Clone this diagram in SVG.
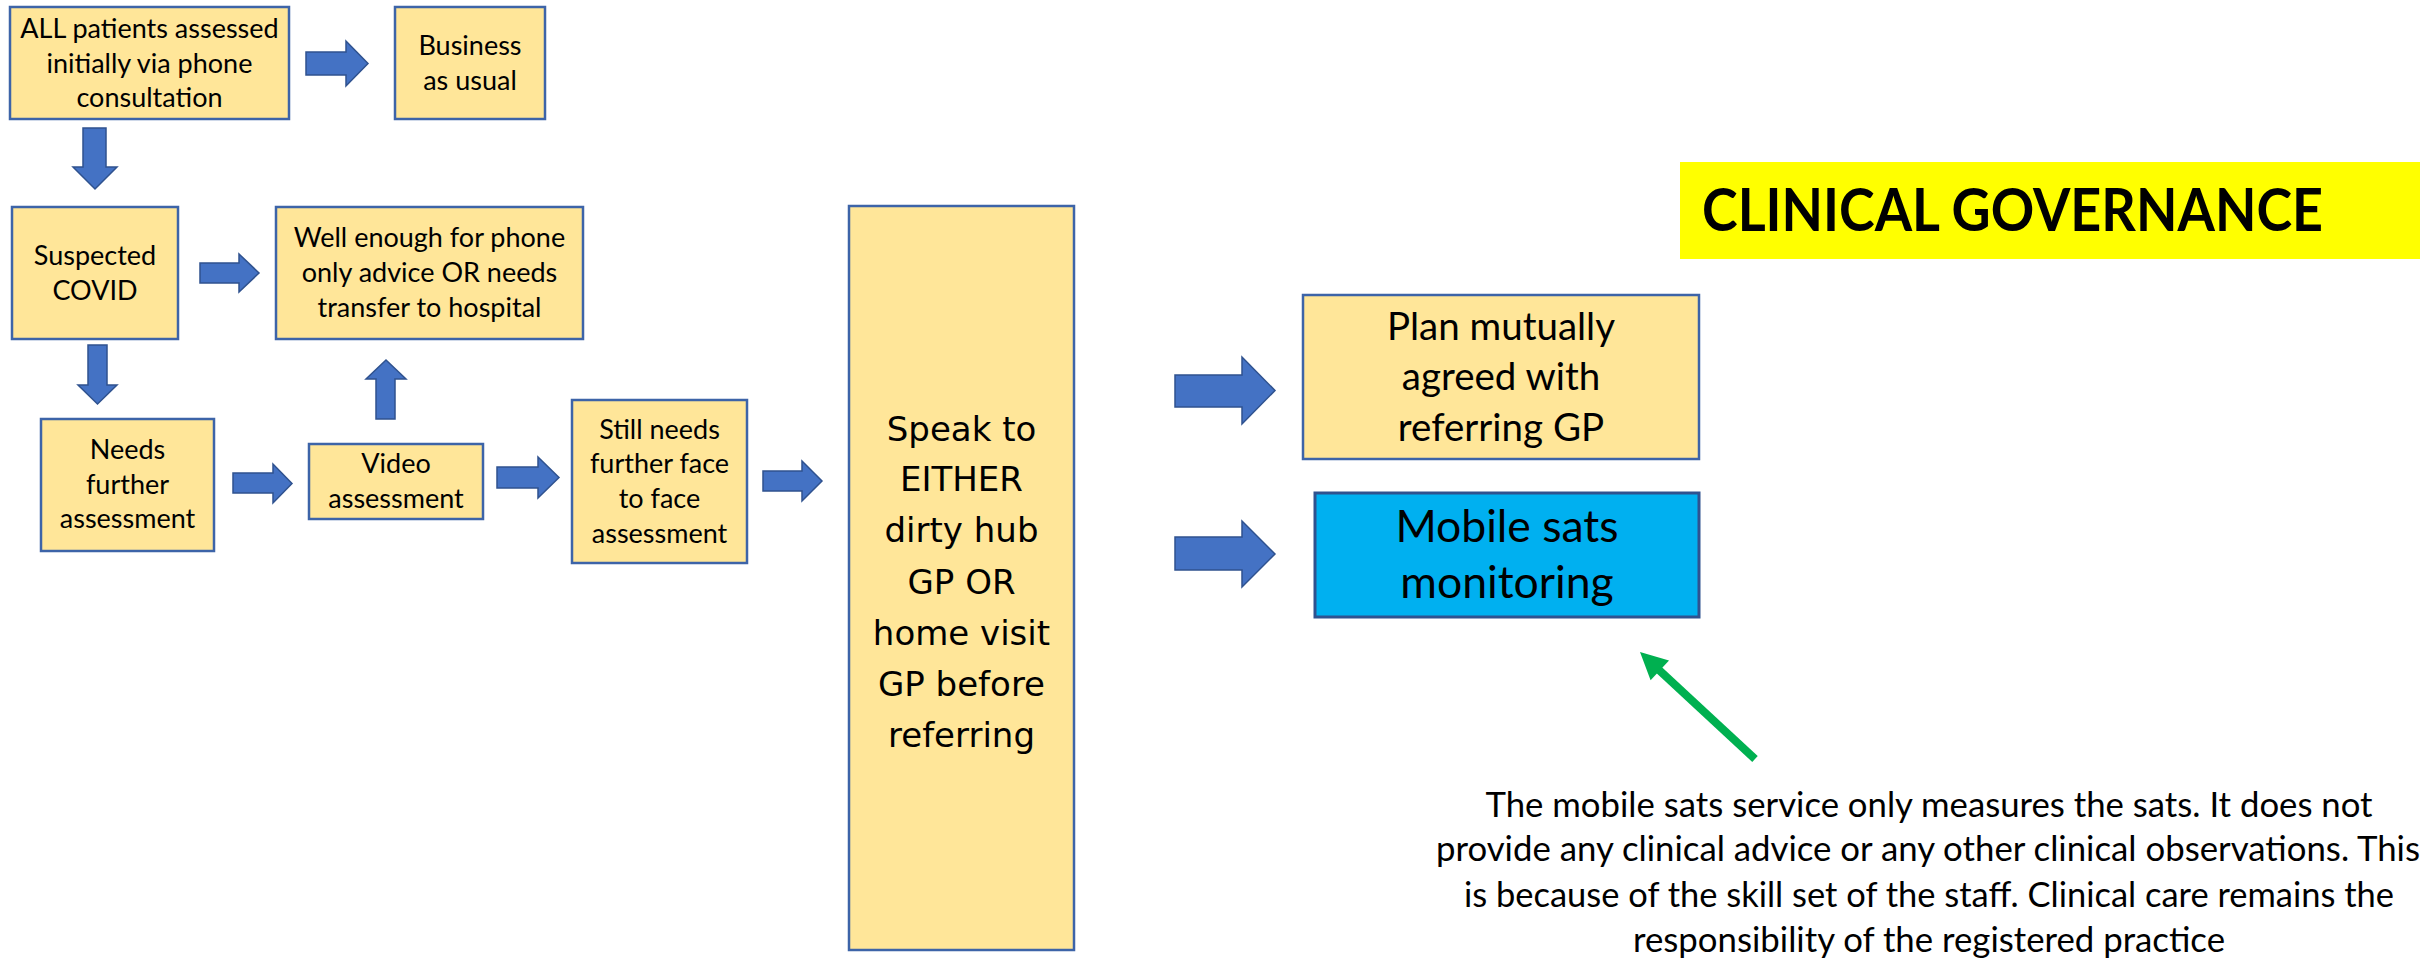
<svg xmlns="http://www.w3.org/2000/svg" width="2430" height="963" viewBox="0 0 2430 963">
  <style>
    .box { fill: #FFE699; stroke: #3D64A8; stroke-width: 2.5; }
    .blue { fill: #00B0F0; stroke: #2F528F; stroke-width: 3; }
    .t { font-family: Lato, "Liberation Sans", sans-serif; fill: #000; text-anchor: middle; }
    .s { font-size: 27px; }
    .m { font-size: 38.5px; }
    .l { font-size: 44.5px; }
    .v { font-family: "DejaVu Sans", Verdana, sans-serif; font-size: 34px; fill: #000; text-anchor: middle; }
    .arr { fill: #4472C4; stroke: #2F528F; stroke-width: 1.5; }
    .note { font-size: 34px; }
  </style>

  <!-- flow arrows -->
  <g id="connectors">
    <polygon class="arr" points="306,52 346,52 346,41 368,63.5 346,86 346,75 306,75"/>
    <polygon class="arr" points="83,128 106,128 106,167 117,167 95,189 73,167 83,167"/>
    <polygon class="arr" points="200,263 239,263 239,254 259,273 239,292 239,283 200,283"/>
    <polygon class="arr" points="88,345 107,345 107,385 117,385 97.5,404 78,385 88,385"/>
    <polygon class="arr" points="376,419 395,419 395,379 406,379 386,360 366,379 376,379"/>
    <polygon class="arr" points="233,473 273,473 273,464 292,483.5 273,503 273,493 233,493"/>
    <polygon class="arr" points="497,467 538,467 538,457 559,477.5 538,498 538,488 497,488"/>
    <polygon class="arr" points="763,471 802,471 802,461 822,481 802,501 802,491 763,491"/>
    <polygon class="arr" points="1175,375 1242,375 1242,357 1275,390.5 1242,424 1242,407 1175,407"/>
    <polygon class="arr" points="1175,537 1242,537 1242,521 1275,554 1242,587 1242,570 1175,570"/>
    <!-- note pointer -->
    <line x1="1755" y1="759" x2="1659" y2="670" stroke="#00B050" stroke-width="8"/>
    <polygon points="1640,652 1650.6,680.3 1669,660.5" fill="#00B050"/>
  </g>

  <g id="phone-consult">
    <rect class="box" x="10" y="7" width="279" height="112"/>
    <text class="t s" x="149.5" y="38">ALL patients assessed</text>
    <text class="t s" x="149.5" y="73">initially via phone</text>
    <text class="t s" x="149.5" y="107">consultation</text>
  </g>

  <g id="business-as-usual">
    <rect class="box" x="395" y="7" width="150" height="112"/>
    <text class="t s" x="470" y="55">Business</text>
    <text class="t s" x="470" y="90">as usual</text>
  </g>

  <g id="suspected-covid">
    <rect class="box" x="12" y="207" width="166" height="132"/>
    <text class="t s" x="95" y="265">Suspected</text>
    <text class="t s" x="95" y="300">COVID</text>
  </g>

  <g id="phone-or-hospital">
    <rect class="box" x="276" y="207" width="307" height="132"/>
    <text class="t s" x="429.5" y="247">Well enough for phone</text>
    <text class="t s" x="429.5" y="282">only advice OR needs</text>
    <text class="t s" x="429.5" y="317">transfer to hospital</text>
  </g>

  <g id="needs-assessment">
    <rect class="box" x="41" y="419" width="173" height="132"/>
    <text class="t s" x="127.5" y="459">Needs</text>
    <text class="t s" x="127.5" y="494">further</text>
    <text class="t s" x="127.5" y="528">assessment</text>
  </g>

  <g id="video-assessment">
    <rect class="box" x="309" y="444" width="174" height="75"/>
    <text class="t s" x="396" y="473">Video</text>
    <text class="t s" x="396" y="508">assessment</text>
  </g>

  <g id="face-to-face">
    <rect class="box" x="572" y="400" width="175" height="163"/>
    <text class="t s" x="659.5" y="439">Still needs</text>
    <text class="t s" x="659.5" y="473">further face</text>
    <text class="t s" x="659.5" y="508">to face</text>
    <text class="t s" x="659.5" y="543">assessment</text>
  </g>

  <g id="speak-to-gp">
    <rect class="box" x="849" y="206" width="225" height="744"/>
    <text class="v" x="961.5" y="441">Speak to</text>
    <text class="v" x="961.5" y="491">EITHER</text>
    <text class="v" x="961.5" y="542">dirty hub</text>
    <text class="v" x="961.5" y="594">GP OR</text>
    <text class="v" x="961.5" y="645">home visit</text>
    <text class="v" x="961.5" y="696">GP before</text>
    <text class="v" x="961.5" y="747">referring</text>
  </g>

  <g id="plan-agreed">
    <rect class="box" x="1303" y="295" width="396" height="164" stroke="#2F528F" stroke-width="3"/>
    <text class="t m" x="1501" y="340">Plan mutually</text>
    <text class="t m" x="1501" y="390">agreed with</text>
    <text class="t m" x="1501" y="441">referring GP</text>
  </g>

  <g id="mobile-sats">
    <rect class="blue" x="1315" y="493" width="384" height="124"/>
    <text class="t l" x="1507" y="542">Mobile sats</text>
    <text class="t l" x="1507" y="598">monitoring</text>
  </g>

  <g id="clinical-governance">
    <rect x="1680" y="162" width="740" height="97" fill="#FFFF00"/>
    <text x="1702" y="231" font-family="Lato, 'Liberation Sans', sans-serif" font-weight="bold" font-size="60" fill="#000" textLength="621" lengthAdjust="spacingAndGlyphs">CLINICAL GOVERNANCE</text>
  </g>

  <g id="sats-note">
    <text class="t note" x="1929" y="817" textLength="887" lengthAdjust="spacingAndGlyphs">The mobile sats service only measures the sats. It does not</text>
    <text class="t note" x="1928" y="861" textLength="984" lengthAdjust="spacingAndGlyphs">provide any clinical advice or any other clinical observations. This</text>
    <text class="t note" x="1929" y="907" textLength="930" lengthAdjust="spacingAndGlyphs">is because of the skill set of the staff. Clinical care remains the</text>
    <text class="t note" x="1929" y="952" textLength="592" lengthAdjust="spacingAndGlyphs">responsibility of the registered practice</text>
  </g>
</svg>
